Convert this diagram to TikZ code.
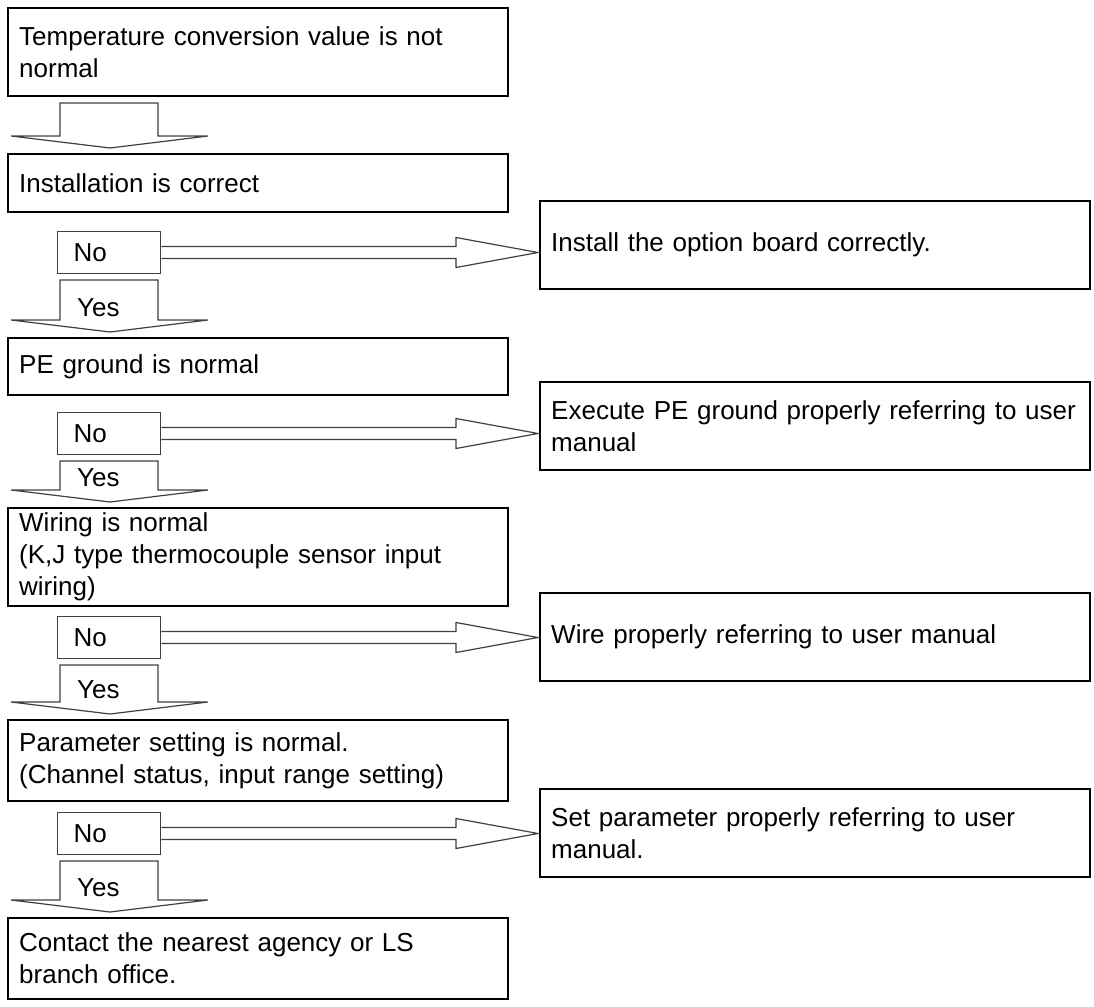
\documentclass[tikz,border=0pt]{standalone}
\usepackage{fontspec}
\setmainfont{Liberation Sans}
\usepackage{tikz}
\usetikzlibrary{calc}
\tikzset{
  cbox/.style={draw=black,line width=2.4pt,anchor=north west,align=left,inner xsep=11pt,inner ysep=0pt,text width=478pt},
  fixbox/.style={draw=black,line width=2.4pt,anchor=north west,align=left,inner xsep=11pt,inner ysep=0pt,text width=528pt,minimum height=87.6pt},
  nobox/.style={draw=black!75,line width=1.3pt,anchor=north west,align=left,inner xsep=16pt,inner ysep=0pt,text width=71pt,minimum height=41.7pt},
  blk/.style={draw=black!75,line width=1.2pt,fill=white,line join=miter},
  yeslbl/.style={anchor=base west,inner sep=0pt}
}
% block arrow pointing down, from the node above to the box below
\newcommand{\downarr}[2]{%
  \draw[blk] let \p1=(#1.south), \p2=(#2.north west) in
    (\x2+53pt,\y1-6pt) -- (\x2+151pt,\y1-6pt) -- (\x2+151pt,\y2+17pt) -- (\x2+201pt,\y2+17pt)
    -- (\x2+103pt,\y2+5pt) -- (\x2+4pt,\y2+17pt) -- (\x2+53pt,\y2+17pt) -- cycle;}
\newcommand{\yesarr}[3]{\downarr{#1}{#2}
  \node[yeslbl] (#3) at ($(#2.north west)+(70,-21)$) {Yes};}
% block arrow to the right, from a "No" box to its remedy box
\newcommand{\noarr}[2]{%
  \draw[blk] let \p1=(#1.east), \p2=(#2.west) in
    (\x1,\y1+6pt) -- (\x2-83pt,\y1+6pt) -- (\x2-83pt,\y1+15pt) -- (\x2-1pt,\y1)
    -- (\x2-83pt,\y1-15pt) -- (\x2-83pt,\y1-6pt) -- (\x1,\y1-6pt);}

\begin{document}
\begin{tikzpicture}[x=1pt,y=-1pt,font=\fontsize{26}{32}\selectfont]
  \useasboundingbox (0,0) rectangle (1094,1006);
  \node[cbox,minimum height=87.6pt] (cond1) at (7,7) {Temperature conversion value is not\\normal};
  \node[cbox,minimum height=57.6pt] (cond2) at (7,153) {Installation is correct};
  \node[nobox] (no1) at (57,231) {No};
  \node[fixbox] (fix1) at (539,200) {Install the option board correctly.};
  \node[cbox,minimum height=56.6pt] (cond3) at (7,337) {PE ground is normal};
  \node[nobox] (no2) at (57,412) {No};
  \node[fixbox] (fix2) at (539,381) {Execute PE ground properly referring to user\\manual};
  \node[cbox,minimum height=97.6pt] (cond4) at (7,507) {Wiring is normal\\(K,J type thermocouple sensor input\\wiring)};
  \node[nobox] (no3) at (57,616) {No};
  \node[fixbox] (fix3) at (539,592) {Wire properly referring to user manual};
  \node[cbox,minimum height=80.6pt] (cond5) at (7,719) {Parameter setting is normal.\\(Channel status, input range setting)};
  \node[nobox] (no4) at (57,812) {No};
  \node[fixbox] (fix4) at (539,788) {Set parameter properly referring to user\\manual.};
  \node[cbox,minimum height=80.6pt] (cond6) at (7,917) {Contact the nearest agency or LS\\branch office.};
  \downarr{cond1}{cond2}
  \noarr{no1}{fix1} \yesarr{no1}{cond3}{yes1}
  \noarr{no2}{fix2} \yesarr{no2}{cond4}{yes2}
  \noarr{no3}{fix3} \yesarr{no3}{cond5}{yes3}
  \noarr{no4}{fix4} \yesarr{no4}{cond6}{yes4}
\end{tikzpicture}
\end{document}
